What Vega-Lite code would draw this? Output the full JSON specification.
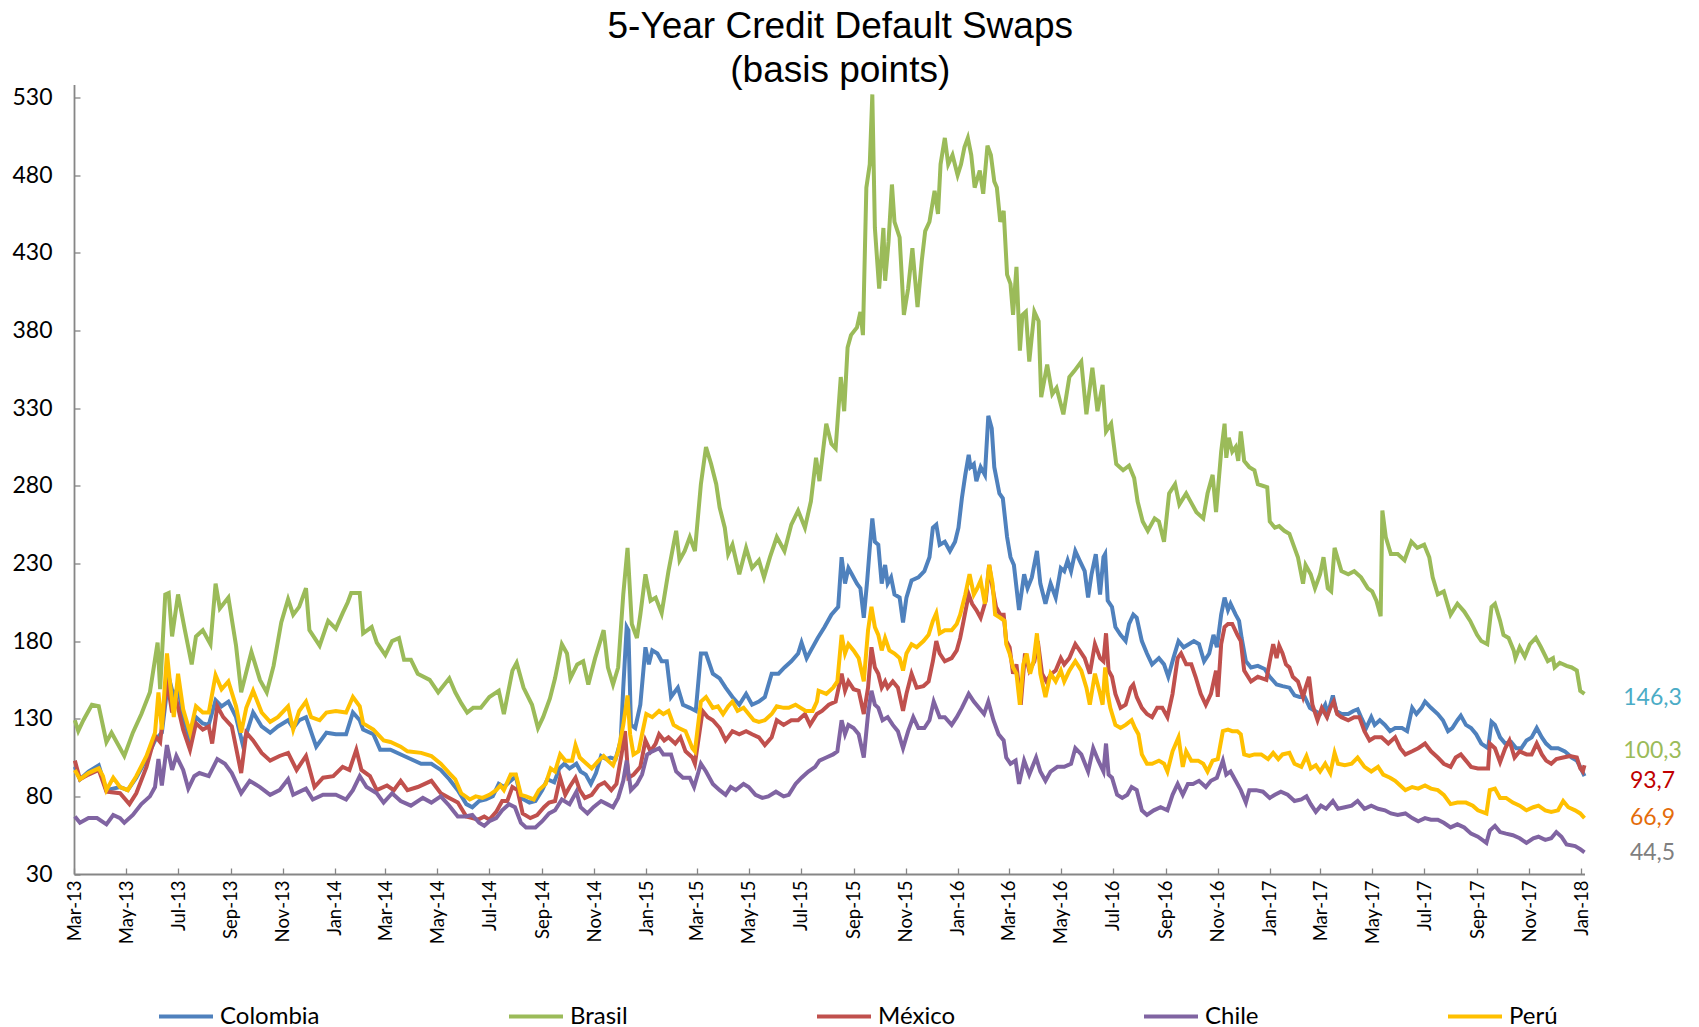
{
"$schema":"https://vega.github.io/schema/vega-lite/v6.json",
"width":1510.5,"height":789.5,
"autosize":{"type":"none"},
"padding":{"left":74,"top":84.5,"right":114.5,"bottom":153},
"background":"white",
"title":{"text":["5-Year Credit Default Swaps","(basis points)"],"font":"Liberation Sans","fontSize":37,"fontWeight":"normal","color":"black","lineHeight":44,"anchor":"middle","offset":-5,"dx":11},
"config":{"view":{"stroke":null},"font":"Lato"},
"datasets":{
"colombia":[{"d":"2013-03-02","v":99},{"d":"2013-03-08","v":91},{"d":"2013-03-18","v":96},{"d":"2013-03-30","v":100},{"d":"2013-04-08","v":84},{"d":"2013-04-24","v":86},{"d":"2013-05-03","v":84},{"d":"2013-05-13","v":92},{"d":"2013-05-25","v":104},{"d":"2013-06-04","v":116},{"d":"2013-06-12","v":121},{"d":"2013-06-20","v":157},{"d":"2013-06-26","v":144},{"d":"2013-07-01","v":151},{"d":"2013-07-07","v":131},{"d":"2013-07-15","v":116},{"d":"2013-07-22","v":131},{"d":"2013-07-30","v":127},{"d":"2013-08-06","v":126},{"d":"2013-08-14","v":142},{"d":"2013-08-21","v":138},{"d":"2013-08-29","v":141},{"d":"2013-09-07","v":131},{"d":"2013-09-15","v":113},{"d":"2013-09-27","v":134},{"d":"2013-10-07","v":125},{"d":"2013-10-17","v":121},{"d":"2013-10-26","v":125},{"d":"2013-11-07","v":129},{"d":"2013-11-13","v":124},{"d":"2013-11-20","v":129},{"d":"2013-11-28","v":131},{"d":"2013-12-10","v":112},{"d":"2013-12-22","v":121},{"d":"2014-01-02","v":120},{"d":"2014-01-14","v":120},{"d":"2014-01-22","v":134},{"d":"2014-01-30","v":129},{"d":"2014-02-03","v":123},{"d":"2014-02-15","v":120},{"d":"2014-02-23","v":110},{"d":"2014-03-07","v":110},{"d":"2014-03-23","v":106},{"d":"2014-04-12","v":101},{"d":"2014-04-24","v":101},{"d":"2014-05-05","v":97},{"d":"2014-05-15","v":91},{"d":"2014-05-25","v":84},{"d":"2014-06-04","v":75},{"d":"2014-06-11","v":73},{"d":"2014-06-19","v":77},{"d":"2014-06-27","v":78},{"d":"2014-07-05","v":80},{"d":"2014-07-12","v":88},{"d":"2014-07-18","v":86},{"d":"2014-07-24","v":89},{"d":"2014-08-01","v":93},{"d":"2014-08-07","v":79},{"d":"2014-08-17","v":76},{"d":"2014-08-24","v":77},{"d":"2014-09-01","v":84},{"d":"2014-09-07","v":91},{"d":"2014-09-15","v":89},{"d":"2014-09-21","v":98},{"d":"2014-09-27","v":101},{"d":"2014-10-03","v":98},{"d":"2014-10-11","v":101},{"d":"2014-10-16","v":96},{"d":"2014-10-22","v":94},{"d":"2014-10-28","v":88},{"d":"2014-11-03","v":95},{"d":"2014-11-09","v":106},{"d":"2014-11-15","v":104},{"d":"2014-11-20","v":105},{"d":"2014-11-26","v":104},{"d":"2014-12-02","v":116},{"d":"2014-12-05","v":150},{"d":"2014-12-09","v":189},{"d":"2014-12-11","v":187},{"d":"2014-12-14","v":126},{"d":"2014-12-19","v":124},{"d":"2014-12-25","v":139},{"d":"2014-12-31","v":176},{"d":"2015-01-04","v":165},{"d":"2015-01-08","v":174},{"d":"2015-01-14","v":172},{"d":"2015-01-19","v":167},{"d":"2015-01-25","v":167},{"d":"2015-01-30","v":144},{"d":"2015-02-07","v":150},{"d":"2015-02-13","v":139},{"d":"2015-02-21","v":137},{"d":"2015-02-28","v":135},{"d":"2015-03-06","v":172},{"d":"2015-03-12","v":172},{"d":"2015-03-20","v":159},{"d":"2015-03-28","v":156},{"d":"2015-04-04","v":150},{"d":"2015-04-12","v":144},{"d":"2015-04-20","v":139},{"d":"2015-04-28","v":146},{"d":"2015-05-05","v":139},{"d":"2015-05-13","v":141},{"d":"2015-05-20","v":144},{"d":"2015-05-28","v":159},{"d":"2015-06-05","v":159},{"d":"2015-06-12","v":163},{"d":"2015-06-20","v":167},{"d":"2015-06-28","v":172},{"d":"2015-07-02","v":179},{"d":"2015-07-08","v":169},{"d":"2015-07-13","v":174},{"d":"2015-07-21","v":182},{"d":"2015-07-29","v":189},{"d":"2015-08-06","v":197},{"d":"2015-08-14","v":202},{"d":"2015-08-18","v":234},{"d":"2015-08-22","v":217},{"d":"2015-08-26","v":227},{"d":"2015-08-30","v":223},{"d":"2015-09-05","v":217},{"d":"2015-09-09","v":214},{"d":"2015-09-13","v":195},{"d":"2015-09-17","v":219},{"d":"2015-09-20","v":240},{"d":"2015-09-23","v":259},{"d":"2015-09-26","v":244},{"d":"2015-09-30","v":242},{"d":"2015-10-04","v":217},{"d":"2015-10-08","v":229},{"d":"2015-10-11","v":217},{"d":"2015-10-15","v":221},{"d":"2015-10-19","v":210},{"d":"2015-10-25","v":208},{"d":"2015-10-29","v":192},{"d":"2015-11-02","v":208},{"d":"2015-11-08","v":219},{"d":"2015-11-16","v":221},{"d":"2015-11-23","v":225},{"d":"2015-11-29","v":234},{"d":"2015-12-03","v":253},{"d":"2015-12-07","v":255},{"d":"2015-12-11","v":242},{"d":"2015-12-17","v":244},{"d":"2015-12-23","v":238},{"d":"2015-12-29","v":244},{"d":"2016-01-02","v":253},{"d":"2016-01-06","v":272},{"d":"2016-01-10","v":287},{"d":"2016-01-14","v":300},{"d":"2016-01-16","v":292},{"d":"2016-01-20","v":294},{"d":"2016-01-23","v":283},{"d":"2016-01-28","v":292},{"d":"2016-02-02","v":287},{"d":"2016-02-06","v":325},{"d":"2016-02-10","v":317},{"d":"2016-02-13","v":292},{"d":"2016-02-19","v":275},{"d":"2016-02-23","v":272},{"d":"2016-02-28","v":247},{"d":"2016-03-03","v":234},{"d":"2016-03-07","v":229},{"d":"2016-03-13","v":200},{"d":"2016-03-19","v":223},{"d":"2016-03-23","v":214},{"d":"2016-03-28","v":221},{"d":"2016-04-03","v":238},{"d":"2016-04-07","v":217},{"d":"2016-04-13","v":204},{"d":"2016-04-19","v":217},{"d":"2016-04-25","v":208},{"d":"2016-05-01","v":227},{"d":"2016-05-05","v":225},{"d":"2016-05-09","v":232},{"d":"2016-05-13","v":225},{"d":"2016-05-18","v":238},{"d":"2016-05-23","v":232},{"d":"2016-05-29","v":225},{"d":"2016-06-02","v":208},{"d":"2016-06-06","v":223},{"d":"2016-06-11","v":236},{"d":"2016-06-16","v":210},{"d":"2016-06-20","v":234},{"d":"2016-06-22","v":236},{"d":"2016-06-25","v":206},{"d":"2016-06-30","v":202},{"d":"2016-07-04","v":189},{"d":"2016-07-10","v":184},{"d":"2016-07-16","v":180},{"d":"2016-07-20","v":191},{"d":"2016-07-25","v":197},{"d":"2016-07-29","v":195},{"d":"2016-08-04","v":180},{"d":"2016-08-10","v":172},{"d":"2016-08-16","v":165},{"d":"2016-08-24","v":169},{"d":"2016-08-30","v":165},{"d":"2016-09-04","v":157},{"d":"2016-09-10","v":169},{"d":"2016-09-16","v":180},{"d":"2016-09-22","v":176},{"d":"2016-09-28","v":178},{"d":"2016-10-04","v":180},{"d":"2016-10-10","v":178},{"d":"2016-10-16","v":167},{"d":"2016-10-22","v":172},{"d":"2016-10-27","v":184},{"d":"2016-10-31","v":176},{"d":"2016-11-05","v":197},{"d":"2016-11-09","v":208},{"d":"2016-11-13","v":200},{"d":"2016-11-16","v":204},{"d":"2016-11-22","v":197},{"d":"2016-11-26","v":193},{"d":"2016-11-29","v":182},{"d":"2016-12-04","v":167},{"d":"2016-12-10","v":163},{"d":"2016-12-18","v":164},{"d":"2016-12-26","v":162},{"d":"2017-01-01","v":157},{"d":"2017-01-09","v":152},{"d":"2017-01-16","v":151},{"d":"2017-01-24","v":150},{"d":"2017-01-30","v":145},{"d":"2017-02-05","v":144},{"d":"2017-02-11","v":144},{"d":"2017-02-17","v":137},{"d":"2017-02-23","v":135},{"d":"2017-03-01","v":133},{"d":"2017-03-07","v":139},{"d":"2017-03-10","v":133},{"d":"2017-03-16","v":145},{"d":"2017-03-20","v":135},{"d":"2017-03-26","v":133},{"d":"2017-04-03","v":133},{"d":"2017-04-09","v":135},{"d":"2017-04-14","v":136},{"d":"2017-04-18","v":131},{"d":"2017-04-24","v":124},{"d":"2017-04-30","v":131},{"d":"2017-05-04","v":126},{"d":"2017-05-10","v":129},{"d":"2017-05-16","v":126},{"d":"2017-05-22","v":122},{"d":"2017-05-28","v":124},{"d":"2017-06-05","v":124},{"d":"2017-06-11","v":122},{"d":"2017-06-17","v":137},{"d":"2017-06-22","v":133},{"d":"2017-06-28","v":137},{"d":"2017-07-02","v":141},{"d":"2017-07-09","v":137},{"d":"2017-07-17","v":133},{"d":"2017-07-23","v":129},{"d":"2017-07-29","v":122},{"d":"2017-08-03","v":124},{"d":"2017-08-09","v":129},{"d":"2017-08-13","v":132},{"d":"2017-08-19","v":126},{"d":"2017-08-25","v":124},{"d":"2017-08-31","v":120},{"d":"2017-09-06","v":114},{"d":"2017-09-14","v":111},{"d":"2017-09-18","v":128},{"d":"2017-09-22","v":126},{"d":"2017-09-28","v":118},{"d":"2017-10-04","v":114},{"d":"2017-10-11","v":115},{"d":"2017-10-17","v":111},{"d":"2017-10-23","v":111},{"d":"2017-10-29","v":116},{"d":"2017-11-04","v":118},{"d":"2017-11-10","v":124},{"d":"2017-11-16","v":118},{"d":"2017-11-21","v":114},{"d":"2017-11-27","v":111},{"d":"2017-12-05","v":111},{"d":"2017-12-13","v":109},{"d":"2017-12-21","v":105},{"d":"2017-12-27","v":103},{"d":"2017-12-31","v":99},{"d":"2018-01-05","v":93}],
"brasil":[{"d":"2013-03-02","v":129},{"d":"2013-03-06","v":122},{"d":"2013-03-12","v":129},{"d":"2013-03-22","v":139},{"d":"2013-03-30","v":138},{"d":"2013-04-08","v":115},{"d":"2013-04-14","v":121},{"d":"2013-04-20","v":115},{"d":"2013-04-29","v":106},{"d":"2013-05-09","v":121},{"d":"2013-05-19","v":133},{"d":"2013-05-29","v":147},{"d":"2013-06-07","v":179},{"d":"2013-06-10","v":149},{"d":"2013-06-16","v":210},{"d":"2013-06-20","v":211},{"d":"2013-06-24","v":183},{"d":"2013-07-01","v":210},{"d":"2013-07-09","v":187},{"d":"2013-07-17","v":165},{"d":"2013-07-22","v":183},{"d":"2013-07-30","v":187},{"d":"2013-08-08","v":178},{"d":"2013-08-14","v":217},{"d":"2013-08-19","v":201},{"d":"2013-08-29","v":208},{"d":"2013-09-07","v":177},{"d":"2013-09-13","v":147},{"d":"2013-09-25","v":173},{"d":"2013-10-05","v":155},{"d":"2013-10-13","v":147},{"d":"2013-10-21","v":164},{"d":"2013-10-30","v":192},{"d":"2013-11-07","v":207},{"d":"2013-11-13","v":197},{"d":"2013-11-20","v":202},{"d":"2013-11-28","v":214},{"d":"2013-12-02","v":187},{"d":"2013-12-14","v":177},{"d":"2013-12-24","v":193},{"d":"2014-01-02","v":188},{"d":"2014-01-10","v":198},{"d":"2014-01-16","v":205},{"d":"2014-01-20","v":211},{"d":"2014-01-30","v":211},{"d":"2014-02-03","v":185},{"d":"2014-02-13","v":189},{"d":"2014-02-19","v":179},{"d":"2014-03-01","v":171},{"d":"2014-03-09","v":180},{"d":"2014-03-17","v":182},{"d":"2014-03-23","v":168},{"d":"2014-03-31","v":168},{"d":"2014-04-08","v":159},{"d":"2014-04-22","v":155},{"d":"2014-05-02","v":147},{"d":"2014-05-15","v":156},{"d":"2014-05-22","v":147},{"d":"2014-05-29","v":140},{"d":"2014-06-05","v":134},{"d":"2014-06-12","v":137},{"d":"2014-06-21","v":137},{"d":"2014-07-01","v":144},{"d":"2014-07-12","v":148},{"d":"2014-07-18","v":133},{"d":"2014-07-28","v":161},{"d":"2014-08-02","v":166},{"d":"2014-08-10","v":150},{"d":"2014-08-20","v":139},{"d":"2014-08-27","v":124},{"d":"2014-09-02","v":131},{"d":"2014-09-10","v":143},{"d":"2014-09-16","v":156},{"d":"2014-09-24","v":178},{"d":"2014-09-30","v":172},{"d":"2014-10-04","v":156},{"d":"2014-10-12","v":165},{"d":"2014-10-19","v":167},{"d":"2014-10-25","v":152},{"d":"2014-11-02","v":169},{"d":"2014-11-12","v":187},{"d":"2014-11-17","v":163},{"d":"2014-11-23","v":152},{"d":"2014-11-29","v":163},{"d":"2014-12-05","v":210},{"d":"2014-12-10","v":240},{"d":"2014-12-15","v":191},{"d":"2014-12-21","v":182},{"d":"2014-12-25","v":197},{"d":"2014-12-31","v":223},{"d":"2015-01-06","v":206},{"d":"2015-01-12","v":208},{"d":"2015-01-19","v":198},{"d":"2015-01-27","v":225},{"d":"2015-02-05","v":251},{"d":"2015-02-09","v":232},{"d":"2015-02-15","v":238},{"d":"2015-02-21","v":247},{"d":"2015-02-27","v":238},{"d":"2015-03-06","v":281},{"d":"2015-03-12","v":305},{"d":"2015-03-18","v":294},{"d":"2015-03-24","v":281},{"d":"2015-03-28","v":266},{"d":"2015-04-03","v":253},{"d":"2015-04-07","v":236},{"d":"2015-04-12","v":242},{"d":"2015-04-20","v":223},{"d":"2015-04-28","v":240},{"d":"2015-05-05","v":227},{"d":"2015-05-13","v":232},{"d":"2015-05-19","v":221},{"d":"2015-05-26","v":234},{"d":"2015-06-03","v":247},{"d":"2015-06-12","v":238},{"d":"2015-06-20","v":255},{"d":"2015-06-28","v":264},{"d":"2015-07-06","v":253},{"d":"2015-07-13","v":270},{"d":"2015-07-19","v":298},{"d":"2015-07-23","v":283},{"d":"2015-07-31","v":320},{"d":"2015-08-06","v":307},{"d":"2015-08-11","v":304},{"d":"2015-08-17","v":350},{"d":"2015-08-21","v":328},{"d":"2015-08-25","v":369},{"d":"2015-08-29","v":377},{"d":"2015-09-05","v":382},{"d":"2015-09-09","v":392},{"d":"2015-09-12","v":377},{"d":"2015-09-16","v":472},{"d":"2015-09-20","v":487},{"d":"2015-09-23","v":532},{"d":"2015-09-26","v":446},{"d":"2015-10-01","v":407},{"d":"2015-10-06","v":446},{"d":"2015-10-08","v":412},{"d":"2015-10-12","v":437},{"d":"2015-10-16","v":474},{"d":"2015-10-19","v":450},{"d":"2015-10-25","v":440},{"d":"2015-10-30","v":390},{"d":"2015-11-04","v":407},{"d":"2015-11-09","v":433},{"d":"2015-11-15","v":395},{"d":"2015-11-20","v":425},{"d":"2015-11-24","v":444},{"d":"2015-11-29","v":450},{"d":"2015-12-05","v":470},{"d":"2015-12-09","v":455},{"d":"2015-12-12","v":487},{"d":"2015-12-17","v":504},{"d":"2015-12-21","v":487},{"d":"2015-12-26","v":493},{"d":"2016-01-01","v":480},{"d":"2016-01-05","v":487},{"d":"2016-01-09","v":498},{"d":"2016-01-13","v":504},{"d":"2016-01-17","v":493},{"d":"2016-01-21","v":472},{"d":"2016-01-27","v":483},{"d":"2016-01-31","v":468},{"d":"2016-02-05","v":499},{"d":"2016-02-09","v":493},{"d":"2016-02-13","v":476},{"d":"2016-02-16","v":472},{"d":"2016-02-20","v":450},{"d":"2016-02-24","v":457},{"d":"2016-02-28","v":416},{"d":"2016-03-03","v":410},{"d":"2016-03-06","v":390},{"d":"2016-03-10","v":421},{"d":"2016-03-14","v":367},{"d":"2016-03-17","v":390},{"d":"2016-03-21","v":392},{"d":"2016-03-25","v":360},{"d":"2016-03-31","v":392},{"d":"2016-04-05","v":386},{"d":"2016-04-08","v":337},{"d":"2016-04-15","v":358},{"d":"2016-04-21","v":339},{"d":"2016-04-26","v":343},{"d":"2016-05-04","v":326},{"d":"2016-05-11","v":350},{"d":"2016-05-17","v":354},{"d":"2016-05-25","v":360},{"d":"2016-05-31","v":326},{"d":"2016-06-07","v":356},{"d":"2016-06-13","v":328},{"d":"2016-06-19","v":345},{"d":"2016-06-23","v":315},{"d":"2016-06-29","v":320},{"d":"2016-07-05","v":294},{"d":"2016-07-13","v":290},{"d":"2016-07-20","v":293},{"d":"2016-07-26","v":285},{"d":"2016-07-30","v":270},{"d":"2016-08-05","v":257},{"d":"2016-08-11","v":251},{"d":"2016-08-19","v":259},{"d":"2016-08-24","v":257},{"d":"2016-08-30","v":244},{"d":"2016-09-05","v":275},{"d":"2016-09-12","v":281},{"d":"2016-09-17","v":268},{"d":"2016-09-25","v":275},{"d":"2016-10-01","v":269},{"d":"2016-10-07","v":263},{"d":"2016-10-15","v":259},{"d":"2016-10-20","v":275},{"d":"2016-10-26","v":287},{"d":"2016-10-30","v":263},{"d":"2016-11-05","v":302},{"d":"2016-11-09","v":320},{"d":"2016-11-11","v":298},{"d":"2016-11-14","v":311},{"d":"2016-11-18","v":302},{"d":"2016-11-22","v":305},{"d":"2016-11-25","v":296},{"d":"2016-11-28","v":315},{"d":"2016-12-02","v":296},{"d":"2016-12-08","v":292},{"d":"2016-12-14","v":290},{"d":"2016-12-18","v":281},{"d":"2016-12-29","v":279},{"d":"2017-01-01","v":257},{"d":"2017-01-07","v":253},{"d":"2017-01-12","v":254},{"d":"2017-01-18","v":251},{"d":"2017-01-24","v":249},{"d":"2017-01-30","v":240},{"d":"2017-02-03","v":234},{"d":"2017-02-09","v":217},{"d":"2017-02-12","v":229},{"d":"2017-02-18","v":223},{"d":"2017-02-23","v":214},{"d":"2017-03-01","v":223},{"d":"2017-03-05","v":234},{"d":"2017-03-10","v":214},{"d":"2017-03-14","v":212},{"d":"2017-03-18","v":240},{"d":"2017-03-26","v":225},{"d":"2017-04-03","v":223},{"d":"2017-04-10","v":225},{"d":"2017-04-18","v":221},{"d":"2017-04-26","v":214},{"d":"2017-05-01","v":212},{"d":"2017-05-06","v":206},{"d":"2017-05-11","v":196},{"d":"2017-05-13","v":264},{"d":"2017-05-17","v":247},{"d":"2017-05-23","v":236},{"d":"2017-05-31","v":236},{"d":"2017-06-08","v":232},{"d":"2017-06-16","v":244},{"d":"2017-06-23","v":240},{"d":"2017-07-01","v":242},{"d":"2017-07-07","v":234},{"d":"2017-07-11","v":221},{"d":"2017-07-17","v":210},{"d":"2017-07-24","v":212},{"d":"2017-08-01","v":197},{"d":"2017-08-09","v":204},{"d":"2017-08-17","v":199},{"d":"2017-08-24","v":193},{"d":"2017-09-01","v":184},{"d":"2017-09-06","v":180},{"d":"2017-09-13","v":178},{"d":"2017-09-18","v":202},{"d":"2017-09-22","v":204},{"d":"2017-09-28","v":193},{"d":"2017-10-02","v":184},{"d":"2017-10-08","v":182},{"d":"2017-10-14","v":174},{"d":"2017-10-16","v":169},{"d":"2017-10-21","v":176},{"d":"2017-10-27","v":170},{"d":"2017-11-02","v":178},{"d":"2017-11-09","v":182},{"d":"2017-11-15","v":176},{"d":"2017-11-23","v":167},{"d":"2017-11-29","v":169},{"d":"2017-12-01","v":163},{"d":"2017-12-07","v":166},{"d":"2017-12-15","v":164},{"d":"2017-12-21","v":163},{"d":"2017-12-27","v":161},{"d":"2017-12-31","v":148},{"d":"2018-01-05","v":146}],
"mexico":[{"d":"2013-03-02","v":103},{"d":"2013-03-08","v":91},{"d":"2013-03-18","v":94},{"d":"2013-03-30","v":97},{"d":"2013-04-08","v":83},{"d":"2013-04-24","v":82},{"d":"2013-05-05","v":75},{"d":"2013-05-13","v":82},{"d":"2013-05-25","v":99},{"d":"2013-06-04","v":119},{"d":"2013-06-10","v":115},{"d":"2013-06-18","v":155},{"d":"2013-06-24","v":134},{"d":"2013-06-29","v":142},{"d":"2013-07-07","v":123},{"d":"2013-07-15","v":110},{"d":"2013-07-22","v":127},{"d":"2013-07-30","v":123},{"d":"2013-08-06","v":125},{"d":"2013-08-10","v":114},{"d":"2013-08-16","v":138},{"d":"2013-08-23","v":131},{"d":"2013-09-02","v":125},{"d":"2013-09-13","v":95},{"d":"2013-09-19","v":121},{"d":"2013-09-27","v":116},{"d":"2013-10-07","v":108},{"d":"2013-10-17","v":103},{"d":"2013-10-28","v":106},{"d":"2013-11-07","v":108},{"d":"2013-11-17","v":97},{"d":"2013-11-28","v":106},{"d":"2013-12-08","v":86},{"d":"2013-12-18","v":92},{"d":"2013-12-30","v":93},{"d":"2014-01-10","v":99},{"d":"2014-01-18","v":97},{"d":"2014-01-26","v":110},{"d":"2014-02-01","v":97},{"d":"2014-02-11","v":93},{"d":"2014-02-19","v":84},{"d":"2014-03-03","v":87},{"d":"2014-03-11","v":84},{"d":"2014-03-19","v":90},{"d":"2014-03-27","v":84},{"d":"2014-04-08","v":86},{"d":"2014-04-24","v":90},{"d":"2014-05-05","v":82},{"d":"2014-05-15","v":79},{"d":"2014-05-25","v":76},{"d":"2014-06-04","v":67},{"d":"2014-06-11","v":66},{"d":"2014-06-18","v":65},{"d":"2014-06-25","v":67},{"d":"2014-07-01","v":65},{"d":"2014-07-09","v":70},{"d":"2014-07-16","v":77},{"d":"2014-07-22","v":77},{"d":"2014-07-28","v":86},{"d":"2014-08-03","v":84},{"d":"2014-08-09","v":69},{"d":"2014-08-18","v":66},{"d":"2014-08-26","v":68},{"d":"2014-09-03","v":73},{"d":"2014-09-09","v":76},{"d":"2014-09-16","v":77},{"d":"2014-09-22","v":92},{"d":"2014-09-28","v":81},{"d":"2014-10-03","v":86},{"d":"2014-10-10","v":92},{"d":"2014-10-15","v":84},{"d":"2014-10-21","v":79},{"d":"2014-10-29","v":81},{"d":"2014-11-06","v":87},{"d":"2014-11-13","v":89},{"d":"2014-11-21","v":84},{"d":"2014-11-27","v":88},{"d":"2014-12-03","v":107},{"d":"2014-12-07","v":122},{"d":"2014-12-11","v":92},{"d":"2014-12-17","v":94},{"d":"2014-12-25","v":99},{"d":"2014-12-31","v":116},{"d":"2015-01-06","v":109},{"d":"2015-01-12","v":114},{"d":"2015-01-16","v":120},{"d":"2015-01-22","v":116},{"d":"2015-01-27","v":118},{"d":"2015-02-04","v":114},{"d":"2015-02-10","v":118},{"d":"2015-02-16","v":109},{"d":"2015-02-24","v":105},{"d":"2015-02-27","v":101},{"d":"2015-03-08","v":135},{"d":"2015-03-14","v":131},{"d":"2015-03-20","v":129},{"d":"2015-03-28","v":124},{"d":"2015-04-04","v":116},{"d":"2015-04-12","v":122},{"d":"2015-04-20","v":120},{"d":"2015-04-28","v":122},{"d":"2015-05-05","v":120},{"d":"2015-05-13","v":118},{"d":"2015-05-20","v":113},{"d":"2015-05-28","v":118},{"d":"2015-06-03","v":129},{"d":"2015-06-11","v":126},{"d":"2015-06-20","v":129},{"d":"2015-06-28","v":129},{"d":"2015-07-06","v":133},{"d":"2015-07-12","v":126},{"d":"2015-07-20","v":133},{"d":"2015-07-26","v":135},{"d":"2015-08-03","v":139},{"d":"2015-08-11","v":141},{"d":"2015-08-18","v":159},{"d":"2015-08-22","v":148},{"d":"2015-08-26","v":154},{"d":"2015-09-01","v":149},{"d":"2015-09-07","v":148},{"d":"2015-09-13","v":133},{"d":"2015-09-18","v":150},{"d":"2015-09-22","v":176},{"d":"2015-09-26","v":163},{"d":"2015-09-30","v":159},{"d":"2015-10-04","v":150},{"d":"2015-10-08","v":154},{"d":"2015-10-11","v":150},{"d":"2015-10-17","v":154},{"d":"2015-10-23","v":150},{"d":"2015-10-29","v":135},{"d":"2015-11-02","v":146},{"d":"2015-11-08","v":159},{"d":"2015-11-14","v":150},{"d":"2015-11-22","v":151},{"d":"2015-11-28","v":154},{"d":"2015-12-03","v":167},{"d":"2015-12-07","v":180},{"d":"2015-12-11","v":172},{"d":"2015-12-17","v":167},{"d":"2015-12-25","v":169},{"d":"2015-12-31","v":174},{"d":"2016-01-04","v":182},{"d":"2016-01-08","v":193},{"d":"2016-01-14","v":210},{"d":"2016-01-18","v":204},{"d":"2016-01-23","v":200},{"d":"2016-01-28","v":195},{"d":"2016-02-03","v":206},{"d":"2016-02-07","v":229},{"d":"2016-02-11","v":214},{"d":"2016-02-15","v":202},{"d":"2016-02-20","v":197},{"d":"2016-02-24","v":197},{"d":"2016-02-27","v":180},{"d":"2016-03-02","v":176},{"d":"2016-03-06","v":159},{"d":"2016-03-10","v":165},{"d":"2016-03-15","v":139},{"d":"2016-03-20","v":172},{"d":"2016-03-25","v":161},{"d":"2016-03-31","v":167},{"d":"2016-04-04","v":180},{"d":"2016-04-09","v":159},{"d":"2016-04-14","v":154},{"d":"2016-04-20","v":159},{"d":"2016-04-25","v":161},{"d":"2016-05-01","v":169},{"d":"2016-05-05","v":165},{"d":"2016-05-11","v":169},{"d":"2016-05-18","v":178},{"d":"2016-05-23","v":174},{"d":"2016-05-29","v":169},{"d":"2016-06-04","v":159},{"d":"2016-06-10","v":178},{"d":"2016-06-16","v":169},{"d":"2016-06-20","v":167},{"d":"2016-06-23","v":185},{"d":"2016-06-26","v":161},{"d":"2016-06-30","v":157},{"d":"2016-07-04","v":146},{"d":"2016-07-10","v":137},{"d":"2016-07-16","v":139},{"d":"2016-07-22","v":150},{"d":"2016-07-25","v":152},{"d":"2016-07-29","v":144},{"d":"2016-08-04","v":137},{"d":"2016-08-10","v":133},{"d":"2016-08-16","v":131},{"d":"2016-08-22","v":137},{"d":"2016-08-28","v":137},{"d":"2016-09-03","v":131},{"d":"2016-09-09","v":146},{"d":"2016-09-15","v":169},{"d":"2016-09-19","v":172},{"d":"2016-09-25","v":165},{"d":"2016-10-01","v":165},{"d":"2016-10-06","v":157},{"d":"2016-10-12","v":146},{"d":"2016-10-18","v":139},{"d":"2016-10-24","v":146},{"d":"2016-10-30","v":161},{"d":"2016-11-01","v":144},{"d":"2016-11-05","v":178},{"d":"2016-11-09","v":189},{"d":"2016-11-13","v":191},{"d":"2016-11-18","v":191},{"d":"2016-11-24","v":184},{"d":"2016-11-28","v":180},{"d":"2016-12-02","v":161},{"d":"2016-12-10","v":154},{"d":"2016-12-18","v":157},{"d":"2016-12-28","v":155},{"d":"2017-01-01","v":167},{"d":"2017-01-05","v":178},{"d":"2017-01-09","v":169},{"d":"2017-01-12","v":177},{"d":"2017-01-16","v":172},{"d":"2017-01-20","v":165},{"d":"2017-01-24","v":163},{"d":"2017-01-28","v":157},{"d":"2017-02-03","v":154},{"d":"2017-02-09","v":144},{"d":"2017-02-12","v":150},{"d":"2017-02-16","v":157},{"d":"2017-02-20","v":139},{"d":"2017-02-26","v":129},{"d":"2017-03-03","v":137},{"d":"2017-03-09","v":131},{"d":"2017-03-13","v":137},{"d":"2017-03-17","v":141},{"d":"2017-03-21","v":133},{"d":"2017-03-26","v":131},{"d":"2017-04-03","v":129},{"d":"2017-04-10","v":131},{"d":"2017-04-16","v":131},{"d":"2017-04-22","v":122},{"d":"2017-04-28","v":116},{"d":"2017-05-04","v":118},{"d":"2017-05-12","v":118},{"d":"2017-05-20","v":114},{"d":"2017-05-28","v":118},{"d":"2017-06-03","v":111},{"d":"2017-06-09","v":107},{"d":"2017-06-17","v":109},{"d":"2017-06-24","v":111},{"d":"2017-07-02","v":114},{"d":"2017-07-09","v":109},{"d":"2017-07-17","v":105},{"d":"2017-07-24","v":101},{"d":"2017-08-01","v":99},{"d":"2017-08-07","v":105},{"d":"2017-08-13","v":107},{"d":"2017-08-19","v":103},{"d":"2017-08-25","v":99},{"d":"2017-09-02","v":98},{"d":"2017-09-14","v":98},{"d":"2017-09-16","v":114},{"d":"2017-09-22","v":111},{"d":"2017-09-28","v":102},{"d":"2017-10-04","v":111},{"d":"2017-10-09","v":116},{"d":"2017-10-15","v":105},{"d":"2017-10-21","v":109},{"d":"2017-10-29","v":107},{"d":"2017-11-04","v":107},{"d":"2017-11-10","v":114},{"d":"2017-11-16","v":107},{"d":"2017-11-21","v":103},{"d":"2017-11-27","v":101},{"d":"2017-12-03","v":104},{"d":"2017-12-11","v":105},{"d":"2017-12-19","v":106},{"d":"2017-12-27","v":105},{"d":"2017-12-31","v":98},{"d":"2018-01-03","v":96},{"d":"2018-01-05","v":100}],
"chile":[{"d":"2013-03-02","v":67},{"d":"2013-03-08","v":63},{"d":"2013-03-18","v":66},{"d":"2013-03-28","v":66},{"d":"2013-04-08","v":62},{"d":"2013-04-16","v":68},{"d":"2013-04-24","v":66},{"d":"2013-04-29","v":63},{"d":"2013-05-09","v":68},{"d":"2013-05-19","v":75},{"d":"2013-05-29","v":80},{"d":"2013-06-04","v":86},{"d":"2013-06-08","v":104},{"d":"2013-06-12","v":87},{"d":"2013-06-18","v":113},{"d":"2013-06-24","v":97},{"d":"2013-06-29","v":106},{"d":"2013-07-07","v":97},{"d":"2013-07-13","v":85},{"d":"2013-07-20","v":93},{"d":"2013-07-26","v":95},{"d":"2013-08-06","v":93},{"d":"2013-08-16","v":104},{"d":"2013-08-25","v":101},{"d":"2013-09-02","v":95},{"d":"2013-09-13","v":82},{"d":"2013-09-23","v":90},{"d":"2013-10-05","v":86},{"d":"2013-10-17","v":81},{"d":"2013-10-28","v":84},{"d":"2013-11-07","v":91},{"d":"2013-11-13","v":81},{"d":"2013-11-28","v":85},{"d":"2013-12-06","v":78},{"d":"2013-12-18","v":81},{"d":"2014-01-02","v":81},{"d":"2014-01-14","v":78},{"d":"2014-01-22","v":84},{"d":"2014-01-30","v":93},{"d":"2014-02-07","v":86},{"d":"2014-02-19","v":82},{"d":"2014-02-27","v":76},{"d":"2014-03-09","v":82},{"d":"2014-03-19","v":77},{"d":"2014-03-31","v":74},{"d":"2014-04-14","v":79},{"d":"2014-04-24","v":76},{"d":"2014-05-05","v":80},{"d":"2014-05-15","v":74},{"d":"2014-05-25","v":67},{"d":"2014-06-03","v":67},{"d":"2014-06-11","v":68},{"d":"2014-06-19","v":63},{"d":"2014-06-25","v":61},{"d":"2014-07-01","v":64},{"d":"2014-07-09","v":66},{"d":"2014-07-16","v":71},{"d":"2014-07-24","v":75},{"d":"2014-07-31","v":73},{"d":"2014-08-07","v":63},{"d":"2014-08-13","v":60},{"d":"2014-08-24","v":60},{"d":"2014-09-01","v":64},{"d":"2014-09-09","v":69},{"d":"2014-09-16","v":71},{"d":"2014-09-24","v":78},{"d":"2014-10-03","v":75},{"d":"2014-10-11","v":83},{"d":"2014-10-16","v":73},{"d":"2014-10-24","v":69},{"d":"2014-10-31","v":73},{"d":"2014-11-09","v":77},{"d":"2014-11-16","v":75},{"d":"2014-11-23","v":73},{"d":"2014-11-29","v":79},{"d":"2014-12-05","v":90},{"d":"2014-12-09","v":103},{"d":"2014-12-14","v":84},{"d":"2014-12-21","v":88},{"d":"2014-12-27","v":94},{"d":"2015-01-02","v":107},{"d":"2015-01-08","v":109},{"d":"2015-01-16","v":111},{"d":"2015-01-21","v":107},{"d":"2015-01-30","v":107},{"d":"2015-02-05","v":96},{"d":"2015-02-13","v":92},{"d":"2015-02-21","v":92},{"d":"2015-02-26","v":86},{"d":"2015-03-06","v":101},{"d":"2015-03-12","v":96},{"d":"2015-03-20","v":88},{"d":"2015-03-28","v":84},{"d":"2015-04-04","v":81},{"d":"2015-04-10","v":86},{"d":"2015-04-16","v":84},{"d":"2015-04-25","v":88},{"d":"2015-05-01","v":86},{"d":"2015-05-09","v":81},{"d":"2015-05-17","v":79},{"d":"2015-05-24","v":80},{"d":"2015-06-02","v":83},{"d":"2015-06-11","v":80},{"d":"2015-06-17","v":81},{"d":"2015-06-25","v":88},{"d":"2015-07-02","v":92},{"d":"2015-07-10","v":96},{"d":"2015-07-18","v":99},{"d":"2015-07-23","v":103},{"d":"2015-07-31","v":105},{"d":"2015-08-08","v":107},{"d":"2015-08-13","v":109},{"d":"2015-08-18","v":129},{"d":"2015-08-22","v":120},{"d":"2015-08-26","v":126},{"d":"2015-09-01","v":124},{"d":"2015-09-07","v":120},{"d":"2015-09-13","v":105},{"d":"2015-09-18","v":133},{"d":"2015-09-22","v":148},{"d":"2015-09-26","v":139},{"d":"2015-09-30","v":137},{"d":"2015-10-05","v":129},{"d":"2015-10-11","v":131},{"d":"2015-10-17","v":126},{"d":"2015-10-23","v":122},{"d":"2015-10-29","v":111},{"d":"2015-11-04","v":122},{"d":"2015-11-10","v":131},{"d":"2015-11-16","v":124},{"d":"2015-11-23","v":124},{"d":"2015-11-29","v":129},{"d":"2015-12-04","v":141},{"d":"2015-12-11","v":131},{"d":"2015-12-17","v":131},{"d":"2015-12-25","v":126},{"d":"2015-12-31","v":131},{"d":"2016-01-06","v":137},{"d":"2016-01-14","v":146},{"d":"2016-01-20","v":141},{"d":"2016-01-26","v":137},{"d":"2016-02-01","v":133},{"d":"2016-02-06","v":141},{"d":"2016-02-12","v":129},{"d":"2016-02-18","v":120},{"d":"2016-02-24","v":116},{"d":"2016-02-27","v":105},{"d":"2016-03-03","v":101},{"d":"2016-03-09","v":103},{"d":"2016-03-13","v":88},{"d":"2016-03-19","v":103},{"d":"2016-03-25","v":94},{"d":"2016-04-02","v":105},{"d":"2016-04-07","v":96},{"d":"2016-04-13","v":90},{"d":"2016-04-19","v":96},{"d":"2016-04-27","v":99},{"d":"2016-05-05","v":99},{"d":"2016-05-13","v":101},{"d":"2016-05-18","v":111},{"d":"2016-05-25","v":107},{"d":"2016-06-02","v":96},{"d":"2016-06-08","v":111},{"d":"2016-06-14","v":103},{"d":"2016-06-20","v":96},{"d":"2016-06-23","v":114},{"d":"2016-06-26","v":94},{"d":"2016-06-30","v":92},{"d":"2016-07-06","v":81},{"d":"2016-07-12","v":79},{"d":"2016-07-18","v":81},{"d":"2016-07-23","v":86},{"d":"2016-07-29","v":84},{"d":"2016-08-04","v":71},{"d":"2016-08-10","v":68},{"d":"2016-08-18","v":71},{"d":"2016-08-26","v":73},{"d":"2016-09-03","v":71},{"d":"2016-09-09","v":81},{"d":"2016-09-15","v":88},{"d":"2016-09-21","v":81},{"d":"2016-09-27","v":88},{"d":"2016-10-03","v":88},{"d":"2016-10-10","v":90},{"d":"2016-10-18","v":86},{"d":"2016-10-24","v":90},{"d":"2016-10-31","v":92},{"d":"2016-11-07","v":103},{"d":"2016-11-11","v":94},{"d":"2016-11-16","v":96},{"d":"2016-11-22","v":90},{"d":"2016-11-28","v":84},{"d":"2016-12-04","v":76},{"d":"2016-12-08","v":84},{"d":"2016-12-16","v":84},{"d":"2016-12-24","v":83},{"d":"2017-01-01","v":79},{"d":"2017-01-07","v":81},{"d":"2017-01-14","v":83},{"d":"2017-01-22","v":81},{"d":"2017-01-30","v":77},{"d":"2017-02-07","v":78},{"d":"2017-02-13","v":80},{"d":"2017-02-18","v":75},{"d":"2017-02-24","v":70},{"d":"2017-03-02","v":74},{"d":"2017-03-08","v":72},{"d":"2017-03-16","v":77},{"d":"2017-03-22","v":72},{"d":"2017-03-30","v":73},{"d":"2017-04-07","v":74},{"d":"2017-04-14","v":77},{"d":"2017-04-22","v":72},{"d":"2017-04-30","v":74},{"d":"2017-05-08","v":72},{"d":"2017-05-16","v":71},{"d":"2017-05-23","v":69},{"d":"2017-05-31","v":68},{"d":"2017-06-09","v":69},{"d":"2017-06-17","v":66},{"d":"2017-06-24","v":64},{"d":"2017-07-02","v":66},{"d":"2017-07-09","v":65},{"d":"2017-07-17","v":65},{"d":"2017-07-24","v":63},{"d":"2017-08-01","v":60},{"d":"2017-08-09","v":62},{"d":"2017-08-17","v":60},{"d":"2017-08-25","v":56},{"d":"2017-09-02","v":54},{"d":"2017-09-12","v":50},{"d":"2017-09-16","v":58},{"d":"2017-09-22","v":61},{"d":"2017-09-28","v":57},{"d":"2017-10-05","v":56},{"d":"2017-10-13","v":55},{"d":"2017-10-21","v":53},{"d":"2017-10-29","v":50},{"d":"2017-11-06","v":53},{"d":"2017-11-12","v":54},{"d":"2017-11-20","v":52},{"d":"2017-11-27","v":53},{"d":"2017-12-03","v":57},{"d":"2017-12-09","v":54},{"d":"2017-12-15","v":49},{"d":"2017-12-25","v":48},{"d":"2017-12-31","v":46},{"d":"2018-01-05","v":44}],
"peru":[{"d":"2013-03-02","v":97},{"d":"2013-03-08","v":91},{"d":"2013-03-18","v":95},{"d":"2013-03-30","v":98},{"d":"2013-04-04","v":93},{"d":"2013-04-08","v":84},{"d":"2013-04-16","v":92},{"d":"2013-04-24","v":86},{"d":"2013-05-03","v":84},{"d":"2013-05-13","v":93},{"d":"2013-05-25","v":106},{"d":"2013-06-04","v":121},{"d":"2013-06-08","v":147},{"d":"2013-06-12","v":123},{"d":"2013-06-18","v":172},{"d":"2013-06-22","v":151},{"d":"2013-06-26","v":131},{"d":"2013-07-01","v":159},{"d":"2013-07-07","v":136},{"d":"2013-07-15","v":121},{"d":"2013-07-22","v":138},{"d":"2013-07-30","v":134},{"d":"2013-08-06","v":134},{"d":"2013-08-14","v":158},{"d":"2013-08-21","v":149},{"d":"2013-08-29","v":154},{"d":"2013-09-07","v":138},{"d":"2013-09-13","v":121},{"d":"2013-09-19","v":137},{"d":"2013-09-27","v":148},{"d":"2013-10-07","v":134},{"d":"2013-10-17","v":128},{"d":"2013-10-26","v":131},{"d":"2013-11-07","v":138},{"d":"2013-11-13","v":123},{"d":"2013-11-20","v":135},{"d":"2013-11-28","v":141},{"d":"2013-12-04","v":131},{"d":"2013-12-14","v":129},{"d":"2013-12-22","v":134},{"d":"2014-01-02","v":135},{"d":"2014-01-14","v":134},{"d":"2014-01-22","v":144},{"d":"2014-01-30","v":138},{"d":"2014-02-03","v":127},{"d":"2014-02-15","v":123},{"d":"2014-02-27","v":116},{"d":"2014-03-07","v":115},{"d":"2014-03-19","v":112},{"d":"2014-03-27","v":109},{"d":"2014-04-12","v":108},{"d":"2014-04-24","v":106},{"d":"2014-05-05","v":101},{"d":"2014-05-15","v":95},{"d":"2014-05-22","v":91},{"d":"2014-05-29","v":82},{"d":"2014-06-08","v":78},{"d":"2014-06-15","v":80},{"d":"2014-06-23","v":79},{"d":"2014-07-01","v":81},{"d":"2014-07-09","v":84},{"d":"2014-07-14","v":87},{"d":"2014-07-18","v":84},{"d":"2014-07-26","v":94},{"d":"2014-08-01","v":94},{"d":"2014-08-07","v":81},{"d":"2014-08-13","v":80},{"d":"2014-08-22","v":78},{"d":"2014-08-28","v":84},{"d":"2014-09-05","v":88},{"d":"2014-09-11","v":98},{"d":"2014-09-16","v":96},{"d":"2014-09-22","v":107},{"d":"2014-09-28","v":103},{"d":"2014-10-06","v":103},{"d":"2014-10-10","v":113},{"d":"2014-10-15","v":105},{"d":"2014-10-21","v":102},{"d":"2014-10-29","v":98},{"d":"2014-11-06","v":103},{"d":"2014-11-12","v":106},{"d":"2014-11-17","v":103},{"d":"2014-11-23","v":100},{"d":"2014-11-29","v":109},{"d":"2014-12-05","v":126},{"d":"2014-12-10","v":145},{"d":"2014-12-13","v":120},{"d":"2014-12-17","v":107},{"d":"2014-12-23","v":109},{"d":"2014-12-27","v":120},{"d":"2015-01-01","v":133},{"d":"2015-01-08","v":131},{"d":"2015-01-16","v":135},{"d":"2015-01-21","v":133},{"d":"2015-01-27","v":135},{"d":"2015-02-02","v":126},{"d":"2015-02-08","v":124},{"d":"2015-02-16","v":122},{"d":"2015-02-24","v":111},{"d":"2015-02-27","v":109},{"d":"2015-03-06","v":141},{"d":"2015-03-12","v":144},{"d":"2015-03-20","v":137},{"d":"2015-03-26","v":138},{"d":"2015-04-01","v":133},{"d":"2015-04-07","v":138},{"d":"2015-04-12","v":141},{"d":"2015-04-18","v":135},{"d":"2015-04-25","v":137},{"d":"2015-05-01","v":133},{"d":"2015-05-07","v":129},{"d":"2015-05-13","v":128},{"d":"2015-05-20","v":129},{"d":"2015-05-28","v":133},{"d":"2015-06-03","v":138},{"d":"2015-06-11","v":137},{"d":"2015-06-17","v":137},{"d":"2015-06-25","v":139},{"d":"2015-07-01","v":137},{"d":"2015-07-07","v":135},{"d":"2015-07-15","v":135},{"d":"2015-07-20","v":141},{"d":"2015-07-22","v":148},{"d":"2015-07-31","v":146},{"d":"2015-08-08","v":150},{"d":"2015-08-13","v":154},{"d":"2015-08-18","v":184},{"d":"2015-08-22","v":172},{"d":"2015-08-26","v":178},{"d":"2015-09-01","v":174},{"d":"2015-09-07","v":169},{"d":"2015-09-13","v":154},{"d":"2015-09-18","v":187},{"d":"2015-09-22","v":202},{"d":"2015-09-26","v":189},{"d":"2015-09-30","v":184},{"d":"2015-10-04","v":174},{"d":"2015-10-08","v":182},{"d":"2015-10-13","v":174},{"d":"2015-10-19","v":172},{"d":"2015-10-25","v":169},{"d":"2015-10-29","v":161},{"d":"2015-11-02","v":172},{"d":"2015-11-08","v":178},{"d":"2015-11-14","v":176},{"d":"2015-11-22","v":180},{"d":"2015-11-28","v":184},{"d":"2015-12-03","v":193},{"d":"2015-12-07","v":198},{"d":"2015-12-11","v":185},{"d":"2015-12-17","v":187},{"d":"2015-12-25","v":187},{"d":"2015-12-31","v":191},{"d":"2016-01-04","v":197},{"d":"2016-01-10","v":210},{"d":"2016-01-15","v":223},{"d":"2016-01-20","v":210},{"d":"2016-01-24","v":214},{"d":"2016-01-28","v":219},{"d":"2016-02-02","v":204},{"d":"2016-02-07","v":229},{"d":"2016-02-11","v":217},{"d":"2016-02-14","v":197},{"d":"2016-02-20","v":195},{"d":"2016-02-25","v":193},{"d":"2016-02-27","v":178},{"d":"2016-03-02","v":172},{"d":"2016-03-06","v":163},{"d":"2016-03-10","v":159},{"d":"2016-03-14","v":139},{"d":"2016-03-18","v":165},{"d":"2016-03-22","v":172},{"d":"2016-03-26","v":159},{"d":"2016-03-30","v":167},{"d":"2016-04-03","v":185},{"d":"2016-04-07","v":159},{"d":"2016-04-13","v":144},{"d":"2016-04-19","v":159},{"d":"2016-04-25","v":154},{"d":"2016-05-01","v":161},{"d":"2016-05-05","v":154},{"d":"2016-05-11","v":161},{"d":"2016-05-18","v":167},{"d":"2016-05-25","v":161},{"d":"2016-05-31","v":150},{"d":"2016-06-04","v":139},{"d":"2016-06-10","v":159},{"d":"2016-06-16","v":146},{"d":"2016-06-19","v":139},{"d":"2016-06-22","v":163},{"d":"2016-06-25","v":146},{"d":"2016-06-28","v":137},{"d":"2016-07-04","v":126},{"d":"2016-07-10","v":124},{"d":"2016-07-16","v":126},{"d":"2016-07-23","v":129},{"d":"2016-07-27","v":124},{"d":"2016-07-31","v":120},{"d":"2016-08-04","v":107},{"d":"2016-08-10","v":101},{"d":"2016-08-16","v":101},{"d":"2016-08-24","v":103},{"d":"2016-08-30","v":101},{"d":"2016-09-03","v":96},{"d":"2016-09-09","v":109},{"d":"2016-09-16","v":118},{"d":"2016-09-21","v":99},{"d":"2016-09-25","v":109},{"d":"2016-10-01","v":103},{"d":"2016-10-09","v":103},{"d":"2016-10-15","v":101},{"d":"2016-10-20","v":96},{"d":"2016-10-26","v":103},{"d":"2016-11-01","v":104},{"d":"2016-11-07","v":122},{"d":"2016-11-13","v":123},{"d":"2016-11-18","v":122},{"d":"2016-11-24","v":122},{"d":"2016-11-28","v":120},{"d":"2016-12-02","v":107},{"d":"2016-12-08","v":106},{"d":"2016-12-14","v":107},{"d":"2016-12-22","v":107},{"d":"2016-12-30","v":104},{"d":"2017-01-05","v":108},{"d":"2017-01-11","v":104},{"d":"2017-01-16","v":107},{"d":"2017-01-24","v":108},{"d":"2017-01-30","v":101},{"d":"2017-02-07","v":99},{"d":"2017-02-13","v":106},{"d":"2017-02-18","v":98},{"d":"2017-02-24","v":100},{"d":"2017-03-01","v":96},{"d":"2017-03-07","v":101},{"d":"2017-03-13","v":95},{"d":"2017-03-18","v":108},{"d":"2017-03-22","v":101},{"d":"2017-03-30","v":100},{"d":"2017-04-07","v":101},{"d":"2017-04-14","v":105},{"d":"2017-04-22","v":99},{"d":"2017-04-30","v":96},{"d":"2017-05-08","v":99},{"d":"2017-05-14","v":94},{"d":"2017-05-22","v":92},{"d":"2017-05-28","v":90},{"d":"2017-06-03","v":87},{"d":"2017-06-09","v":84},{"d":"2017-06-17","v":86},{"d":"2017-06-24","v":85},{"d":"2017-07-02","v":87},{"d":"2017-07-09","v":85},{"d":"2017-07-17","v":84},{"d":"2017-07-24","v":81},{"d":"2017-08-01","v":75},{"d":"2017-08-09","v":76},{"d":"2017-08-19","v":76},{"d":"2017-08-27","v":74},{"d":"2017-09-02","v":71},{"d":"2017-09-12","v":69},{"d":"2017-09-16","v":84},{"d":"2017-09-22","v":85},{"d":"2017-09-28","v":79},{"d":"2017-10-05","v":79},{"d":"2017-10-13","v":76},{"d":"2017-10-21","v":74},{"d":"2017-10-29","v":71},{"d":"2017-11-06","v":73},{"d":"2017-11-12","v":74},{"d":"2017-11-20","v":71},{"d":"2017-11-27","v":70},{"d":"2017-12-05","v":71},{"d":"2017-12-11","v":77},{"d":"2017-12-17","v":73},{"d":"2017-12-25","v":71},{"d":"2017-12-31","v":69},{"d":"2018-01-05","v":66}],
"labels":[{"lab":"146,3","d":"2018-01-05","v":143.5},{"lab":"100,3","d":"2018-01-05","v":109.4},{"lab":"93,7","d":"2018-01-05","v":90.1},{"lab":"66,9","d":"2018-01-05","v":66.3},{"lab":"44,5","d":"2018-01-05","v":43.8}]
},
"encoding":{
"x":{"field":"d","type":"temporal","scale":{"type":"utc","domain":[{"year":2013,"month":3,"date":1,"utc":true},{"year":2018,"month":1,"date":5,"utc":true}]},"axis":{"format":"%b-%y","tickCount":{"interval":"month","step":2},"labelAngle":270,"title":null,"grid":false,"labelFont":"Lato","labelFontSize":18.5,"labelColor":"black","labelPadding":12,"tickSize":-6,"tickColor":"#868686","tickWidth":1.3,"domainColor":"#868686","domainWidth":1.8,"labelOverlap":false,"labelFlush":false,"labelBound":false}},
"y":{"field":"v","type":"quantitative","scale":{"domain":[30,538.4],"nice":false,"zero":false},"axis":{"values":[30,80,130,180,230,280,330,380,430,480,530],"title":null,"grid":false,"labelFont":"Lato","labelFontSize":23,"labelColor":"black","labelPadding":28,"tickSize":-6,"tickColor":"#868686","tickWidth":1.3,"domainColor":"#868686","domainWidth":1.8}}
},
"layer":[
{"data":{"name":"colombia"},"mark":{"type":"line","strokeWidth":4},"encoding":{"color":{"datum":"Colombia","type":"nominal","scale":{"domain":["Colombia","Brasil","México","Chile","Perú"],"range":["#4F81BD","#9BBB59","#C0504D","#8064A2","#FFC000"]},"legend":{"orient":"none","legendX":83,"legendY":903,"direction":"horizontal","columns":5,"title":null,"padding":0,"symbolType":"stroke","symbolSize":2916,"symbolStrokeWidth":4,"labelFont":"Lato","labelFontSize":24,"labelColor":"black","labelOffset":5,"columnPadding":181,"labelLimit":0}}}},
{"data":{"name":"brasil"},"mark":{"type":"line","strokeWidth":4},"encoding":{"color":{"datum":"Brasil","type":"nominal"}}},
{"data":{"name":"mexico"},"mark":{"type":"line","strokeWidth":4},"encoding":{"color":{"datum":"México","type":"nominal"}}},
{"data":{"name":"chile"},"mark":{"type":"line","strokeWidth":4},"encoding":{"color":{"datum":"Chile","type":"nominal"}}},
{"data":{"name":"peru"},"mark":{"type":"line","strokeWidth":4},"encoding":{"color":{"datum":"Perú","type":"nominal"}}},
{"data":{"name":"labels"},"mark":{"type":"text","dx":68,"align":"center","baseline":"middle","font":"Lato","fontSize":23},"encoding":{"text":{"field":"lab"},"fill":{"field":"lab","type":"nominal","scale":{"domain":["146,3","100,3","93,7","66,9","44,5"],"range":["#4BACC6","#9BBB59","#C00000","#E46C0A","#7F7F7F"]},"legend":null}}}
]
}
